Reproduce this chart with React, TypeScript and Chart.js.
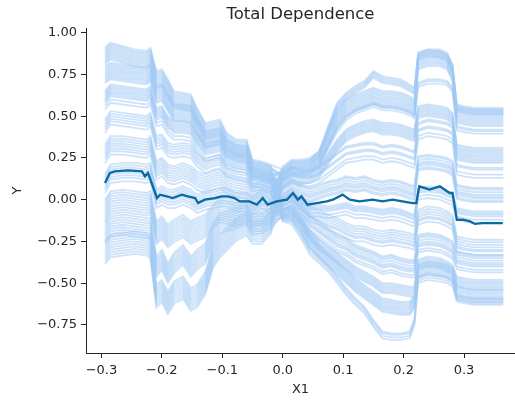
import React, { useEffect, useRef } from "react";
import { Chart, registerables } from "chart.js";

Chart.register(...registerables);

// ---- x knots of the individual (light) curves ----
const L_X = [-0.294, -0.285, -0.265, -0.245, -0.225, -0.219, -0.209, -0.2, -0.19, -0.18, -0.165, -0.152, -0.142, -0.128, -0.115, -0.104, -0.093, -0.077, -0.06, -0.05, -0.035, -0.02];
const R_X = [0.0, 0.015, 0.03, 0.045, 0.06, 0.075, 0.09, 0.105, 0.12, 0.135, 0.15, 0.165, 0.18, 0.195, 0.21, 0.218, 0.224, 0.24, 0.26, 0.272, 0.281, 0.288, 0.3, 0.317, 0.365];

// ---- left-half bundles (values read at L_X) ----
const LA = [0.89, 0.92, 0.90, 0.88, 0.87, 0.89, 0.75, 0.76, 0.70, 0.63, 0.62, 0.61, 0.53, 0.44, 0.45, 0.46, 0.38, 0.34, 0.34, 0.22, 0.21, 0.19];
const LB = [0.78, 0.80, 0.79, 0.78, 0.77, 0.79, 0.66, 0.67, 0.61, 0.55, 0.55, 0.54, 0.47, 0.39, 0.40, 0.41, 0.34, 0.31, 0.30, 0.21, 0.20, 0.18];
const LC = [0.62, 0.66, 0.65, 0.64, 0.63, 0.65, 0.52, 0.53, 0.47, 0.44, 0.44, 0.43, 0.37, 0.31, 0.32, 0.33, 0.27, 0.25, 0.24, 0.16, 0.15, 0.13];
const LD = [0.45, 0.50, 0.49, 0.48, 0.47, 0.49, 0.35, 0.36, 0.31, 0.30, 0.31, 0.30, 0.25, 0.21, 0.23, 0.24, 0.19, 0.17, 0.16, 0.10, 0.11, 0.09];
const LE = [0.28, 0.33, 0.33, 0.32, 0.31, 0.33, 0.18, 0.20, 0.16, 0.15, 0.17, 0.15, 0.12, 0.10, 0.12, 0.13, 0.10, 0.08, 0.07, 0.04, 0.06, 0.04];
const LF = [0.10, 0.16, 0.17, 0.17, 0.16, 0.17, 0.01, 0.03, 0.01, 0.01, 0.03, 0.01, -0.02, 0.00, 0.01, 0.02, 0.02, -0.01, -0.01, -0.03, 0.01, -0.02];
const LG = [-0.05, 0.00, 0.01, 0.00, -0.01, 0.00, -0.18, -0.15, -0.20, -0.17, -0.14, -0.18, -0.16, -0.14, -0.08, -0.05, -0.06, -0.07, -0.05, -0.08, -0.06, -0.06];
const LH = [-0.18, -0.14, -0.13, -0.14, -0.15, -0.15, -0.38, -0.34, -0.42, -0.36, -0.31, -0.38, -0.34, -0.30, -0.18, -0.12, -0.11, -0.09, -0.07, -0.13, -0.12, -0.09];
const LI = [-0.32, -0.28, -0.27, -0.26, -0.27, -0.29, -0.58, -0.55, -0.62, -0.56, -0.53, -0.60, -0.58, -0.50, -0.34, -0.28, -0.24, -0.18, -0.15, -0.20, -0.20, -0.14];

const LEFT_BUNDLES = [LA, LB, LC, LD, LE, LF, LG, LH, LI];
const LEFT_SHIFTS = [
  [0.02, 0.01, 0.0, -0.01, -0.02, -0.03, -0.04, -0.05, -0.06, -0.07, -0.08],
  [0.02, 0.01, 0.0, -0.01, -0.02, -0.03, -0.04, -0.05, -0.06, -0.07, -0.08],
  [0.03, 0.02, 0.01, 0.0, -0.01, -0.02, -0.03, -0.04, -0.06, -0.08],
  [0.03, 0.015, 0.0, -0.015, -0.03, -0.05],
  [0.05, 0.035, 0.02, 0.005, -0.01, -0.025, -0.04, -0.06],
  [0.05, 0.035, 0.02, 0.005, -0.01, -0.025, -0.04, -0.06],
  [0.05, 0.035, 0.02, 0.005, -0.01, -0.025, -0.04, -0.055, -0.07, -0.085],
  [0.04, 0.025, 0.01, -0.005, -0.02, -0.035, -0.05, -0.065, -0.08],
  [0.07, 0.055, 0.04, 0.025, 0.01, -0.005, -0.02, -0.035, -0.05, -0.065],
];

// ---- right-half bundles (values read at R_X) ----
const RA = [0.16, 0.21, 0.21, 0.22, 0.27, 0.42, 0.56, 0.62, 0.66, 0.69, 0.75, 0.72, 0.71, 0.70, 0.67, 0.65, 0.86, 0.88, 0.87, 0.85, 0.78, 0.55, 0.54, 0.53, 0.53];
const RA2 = [0.15, 0.19, 0.19, 0.20, 0.24, 0.36, 0.48, 0.55, 0.58, 0.60, 0.62, 0.60, 0.60, 0.59, 0.57, 0.55, 0.83, 0.85, 0.85, 0.83, 0.76, 0.51, 0.50, 0.49, 0.49];
const RB = [0.14, 0.18, 0.17, 0.18, 0.22, 0.32, 0.42, 0.49, 0.53, 0.55, 0.57, 0.55, 0.55, 0.54, 0.52, 0.50, 0.69, 0.71, 0.71, 0.70, 0.66, 0.43, 0.42, 0.41, 0.41];
const RC = [0.12, 0.15, 0.14, 0.15, 0.18, 0.26, 0.34, 0.40, 0.43, 0.45, 0.46, 0.44, 0.44, 0.43, 0.41, 0.40, 0.54, 0.55, 0.54, 0.53, 0.50, 0.31, 0.30, 0.29, 0.29];
const RD = [0.08, 0.12, 0.10, 0.10, 0.12, 0.16, 0.20, 0.24, 0.25, 0.26, 0.26, 0.24, 0.25, 0.24, 0.22, 0.21, 0.38, 0.40, 0.39, 0.38, 0.36, 0.17, 0.16, 0.15, 0.15];
const RE = [0.04, 0.08, 0.05, 0.03, 0.05, 0.07, 0.08, 0.10, 0.09, 0.10, 0.08, 0.07, 0.08, 0.07, 0.05, 0.04, 0.22, 0.23, 0.22, 0.21, 0.19, 0.05, 0.04, 0.03, 0.03];
const RF = [0.00, 0.03, 0.00, -0.04, -0.04, -0.05, -0.04, -0.03, -0.05, -0.05, -0.06, -0.07, -0.06, -0.07, -0.09, -0.10, 0.06, 0.07, 0.06, 0.04, 0.03, -0.06, -0.07, -0.08, -0.08];
const RJ = [-0.03, 0.00, -0.05, -0.10, -0.12, -0.15, -0.17, -0.20, -0.22, -0.22, -0.24, -0.25, -0.24, -0.25, -0.26, -0.27, -0.12, -0.10, -0.11, -0.13, -0.15, -0.28, -0.29, -0.30, -0.30];
const RG = [-0.05, -0.03, -0.08, -0.14, -0.18, -0.22, -0.26, -0.28, -0.32, -0.34, -0.36, -0.39, -0.38, -0.40, -0.41, -0.41, -0.26, -0.25, -0.26, -0.28, -0.30, -0.36, -0.37, -0.38, -0.38];
const RH = [-0.08, -0.06, -0.12, -0.20, -0.26, -0.30, -0.34, -0.38, -0.42, -0.45, -0.48, -0.52, -0.52, -0.53, -0.54, -0.54, -0.38, -0.36, -0.37, -0.39, -0.41, -0.48, -0.49, -0.50, -0.50];
const RI = [-0.10, -0.10, -0.16, -0.26, -0.32, -0.37, -0.42, -0.47, -0.52, -0.56, -0.60, -0.64, -0.65, -0.66, -0.66, -0.62, -0.44, -0.42, -0.43, -0.44, -0.46, -0.57, -0.58, -0.59, -0.59];
const RK = [-0.10, -0.12, -0.20, -0.30, -0.35, -0.40, -0.47, -0.54, -0.60, -0.65, -0.73, -0.80, -0.81, -0.81, -0.80, -0.72, -0.47, -0.45, -0.46, -0.47, -0.49, -0.58, -0.59, -0.60, -0.60];

const RIGHT_BUNDLES = [RA, RA2, RB, RC, RD, RE, RF, RJ, RG, RH, RI, RK];
const RIGHT_SHIFTS = [
  [0.02, 0.01, 0.0, -0.01, -0.02],
  [0.05, 0.04, 0.03, 0.02, 0.01, 0.0, -0.01, -0.02, -0.03, -0.04, -0.05],
  [0.01, 0.0, -0.015],
  [0.02, 0.01, 0.0, -0.01, -0.02, -0.03, -0.04, -0.05],
  [0.08, 0.07, 0.04, 0.03, 0.0, -0.02],
  [0.04, 0.03, 0.015, 0.0, -0.01, -0.02, -0.035, -0.045],
  [0.01, 0.0, -0.01, -0.02, -0.04, -0.06],
  [0.06, 0.045, 0.03, 0.015, 0.0, -0.01, -0.03],
  [0.05, 0.04, 0.03, 0.015, 0.0, -0.01, -0.02, -0.04, -0.055],
  [0.02, 0.01, 0.0, -0.01, -0.02, -0.03, -0.04],
  [0.05, 0.04, 0.03, 0.02, 0.01, 0.0, -0.01, -0.02, -0.03],
  [0.01, 0.0, -0.015, -0.03],
];

// ---- average curve (dark) ----
const MEAN_X = [-0.294, -0.286, -0.278, -0.256, -0.233, -0.228, -0.223, -0.208, -0.203, -0.192, -0.182, -0.167, -0.157, -0.145, -0.14, -0.129, -0.112, -0.101, -0.091, -0.08, -0.071, -0.055, -0.043, -0.033, -0.025, -0.01, 0.007, 0.017, 0.025, 0.031, 0.041, 0.056, 0.073, 0.083, 0.099, 0.111, 0.127, 0.149, 0.165, 0.182, 0.198, 0.215, 0.221, 0.226, 0.243, 0.26, 0.276, 0.281, 0.288, 0.298, 0.31, 0.318, 0.33, 0.364];
const MEAN_Y = [0.10, 0.16, 0.17, 0.175, 0.17, 0.14, 0.16, 0.01, 0.03, 0.02, 0.01, 0.03, 0.02, 0.01, -0.02, 0.0, 0.01, 0.02, 0.02, 0.01, -0.01, -0.01, -0.03, 0.01, -0.03, -0.01, 0.0, 0.04, 0.0, 0.02, -0.03, -0.02, -0.01, 0.0, 0.03, 0.0, -0.01, 0.0, -0.01, 0.0, -0.01, -0.02, -0.02, 0.08, 0.06, 0.08, 0.04, 0.04, -0.12, -0.12, -0.13, -0.145, -0.14, -0.14];

const X_TICKS = [-0.3, -0.2, -0.1, 0.0, 0.1, 0.2, 0.3];
const Y_TICKS = [-0.75, -0.5, -0.25, 0.0, 0.25, 0.5, 0.75, 1.0];

const TITLE = "Total Dependence";
const X_LABEL = "X1";
const Y_LABEL = "Y";

const INK = "#262626";
const FONT = "DejaVu Sans";

function fmt(v: number, d: number): string {
  const s = Math.abs(v).toFixed(d);
  return (v < -1e-9 ? "\u2212" : "") + s;
}

function buildCurves() {
  const lefts: number[][] = [];
  LEFT_BUNDLES.forEach((b, i) => LEFT_SHIFTS[i].forEach((s) => lefts.push(b.map((v) => v + s))));
  const rights: number[][] = [];
  RIGHT_BUNDLES.forEach((b, i) => RIGHT_SHIFTS[i].forEach((s) => rights.push(b.map((v) => v + s))));
  const n = Math.min(lefts.length, rights.length);
  const xs = [...L_X, ...R_X];
  const curves: { x: number; y: number }[][] = [];
  for (let k = 0; k < n; k++) {
    const ys = [...lefts[k], ...rights[(k * 29) % n]];
    curves.push(xs.map((x, i) => ({ x, y: ys[i] })));
  }
  return curves;
}

export default function App() {
  const ref = useRef<HTMLCanvasElement | null>(null);

  useEffect(() => {
    if (!ref.current) return;
    const curves = buildCurves();
    const light = curves.map((data) => ({
      data,
      borderColor: "rgba(161,201,244,0.52)",
      borderWidth: 1.8,
      pointRadius: 0,
      tension: 0,
      fill: false,
      order: 1,
    }));
    const mean = {
      data: MEAN_X.map((x, i) => ({ x, y: MEAN_Y[i] })),
      borderColor: "#0a6aa3",
      borderWidth: 2.3,
      pointRadius: 0,
      tension: 0,
      fill: false,
      order: 0,
    };
    const tickFont = { family: FONT, size: 13 };
    const chart = new Chart(ref.current, {
      type: "line",
      data: { datasets: [mean, ...light] as any },
      options: {
        animation: false,
        responsive: false,
        maintainAspectRatio: false,
        layout: { padding: 0 },
        plugins: {
          legend: { display: false },
          tooltip: { enabled: false },
          title: {
            display: true,
            text: TITLE,
            fullSize: false,
            color: INK,
            font: { family: FONT, size: 16.5, weight: "normal" as any },
            padding: { top: 5, bottom: 3.2 },
          },
        },
        scales: {
          x: {
            type: "linear",
            min: -0.3255,
            max: 0.3843,
            afterBuildTicks: (s: any) => {
              s.ticks = X_TICKS.map((v) => ({ value: v }));
            },
            afterFit: (s: any) => {
              s.height = 47;
            },
            ticks: {
              callback: (v: any) => fmt(Number(v), 1),
              font: tickFont,
              color: INK,
              padding: 5,
              maxRotation: 0,
              autoSkip: false,
            },
            grid: {
              display: true,
              drawOnChartArea: false,
              drawTicks: true,
              tickLength: 5,
              tickColor: INK,
              tickWidth: 1,
            },
            border: { display: true, color: INK, width: 1 },
            title: {
              display: true,
              text: X_LABEL,
              color: INK,
              font: tickFont,
              padding: { top: 0, bottom: 3 },
            },
          },
          y: {
            type: "linear",
            min: -0.918,
            max: 1.028,
            afterBuildTicks: (s: any) => {
              s.ticks = Y_TICKS.map((v) => ({ value: v }));
            },
            afterFit: (s: any) => {
              s.width = 86;
            },
            ticks: {
              callback: (v: any) => fmt(Number(v), 2),
              font: tickFont,
              color: INK,
              padding: 4,
              autoSkip: false,
            },
            grid: {
              display: true,
              drawOnChartArea: false,
              drawTicks: true,
              tickLength: 5,
              tickColor: INK,
              tickWidth: 1,
            },
            border: { display: true, color: INK, width: 1 },
            title: {
              display: true,
              text: Y_LABEL,
              color: INK,
              font: tickFont,
              padding: { top: 10, bottom: 0 },
            },
          },
        },
      } as any,
    });
    return () => chart.destroy();
  }, []);

  return (
    <div style={{ position: "fixed", left: 0, top: 0, width: 515, height: 400, background: "#fff" }}>
      <canvas ref={ref} width={515} height={400} />
    </div>
  );
}
